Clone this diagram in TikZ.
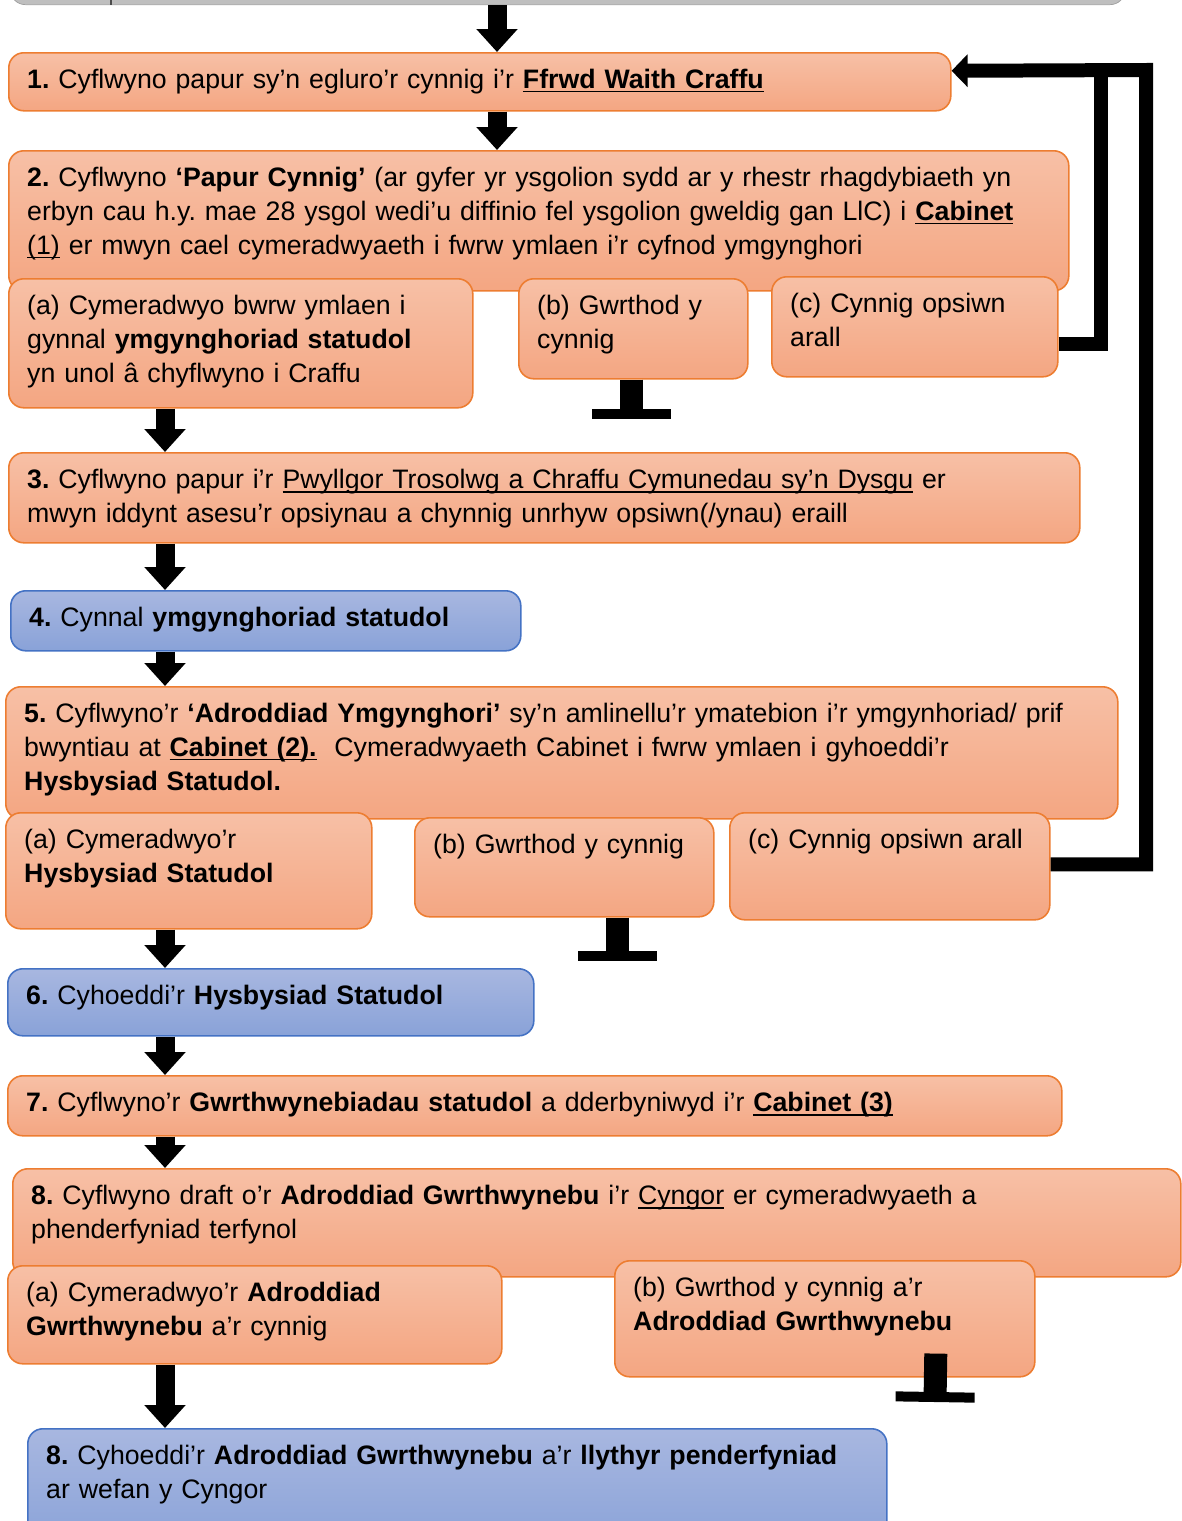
\documentclass[tikz,border=0pt]{standalone}
\usepackage{fontspec}
\setmainfont{Liberation Sans}
\usetikzlibrary{arrows.meta,calc}
\frenchspacing

\definecolor{peachtop}{RGB}{247,192,166}
\definecolor{peachbot}{RGB}{244,166,130}
\definecolor{peachline}{RGB}{237,125,49}
\definecolor{lilactop}{RGB}{168,183,224}
\definecolor{lilacbot}{RGB}{137,162,216}
\definecolor{lilacline}{RGB}{68,114,196}
\newcommand{\uln}[1]{\leavevmode\setbox0\hbox{#1}\rlap{\vrule height -1.4pt depth 2.4pt width \wd0}\box0\relax}

\begin{document}
\begin{tikzpicture}[x=0.02cm,y=-0.02cm,
        stage box/.style 2 args={anchor=north west, rounded corners=0.3cm, line width=0.9pt,
            inner xsep=10.5pt, inner ysep=0pt, align=left,
            text width={#1*0.02cm-21pt}, text height=20.2pt, text depth={#2*0.02cm-20.2pt},
            font=\fontsize{15.2}{19.3}\selectfont},
        orange stage/.style={draw=peachline, top color=peachtop, bottom color=peachbot},
        blue stage/.style={draw=lilacline, top color=lilactop, bottom color=lilacbot},
        down arrow/.style={line width=0.38cm, -{Triangle[width=0.8cm,length=0.46cm]}},
        stop bar/.style={line width=0.46cm, -{Bar[width=1.58cm,line width=0.2cm]}},
        loop back/.style={line width=0.28cm}]
        \useasboundingbox (0,0) rectangle (1182,1521);
        \clip (0,0) rectangle (1182,1521);
        % step before, cut off by the top edge
        \node[draw=gray!75, fill=gray!50, rounded corners=0.3cm, anchor=south west,
            minimum width=22.3cm, minimum height=1.2cm] (prev) at (10,5) {};
        \draw[gray!60!black, line width=0.8pt] (111,0) -- (111,5);

        \node[stage box={942}{58}, orange stage] (b1) at (8,52)
            {\textbf{1.} Cyflwyno papur sy’n egluro’r cynnig i’r \uln{\textbf{Ffrwd Waith Craffu}}};
        \node[stage box={1060}{140}, orange stage] (b2) at (8,150)
            {\textbf{2.} Cyflwyno \textbf{‘Papur Cynnig’} (ar gyfer yr ysgolion sydd ar y rhestr rhagdybiaeth yn\\
            erbyn cau h.y. mae 28 ysgol wedi’u diffinio fel ysgolion gweldig gan LlC) i \uln{\textbf{Cabinet}}\\
            \uln{(1)} er mwyn cael cymeradwyaeth i fwrw ymlaen i’r cyfnod ymgynghori};
        \node[stage box={464}{129}, orange stage] (b2a) at (8,278)
            {(a) Cymeradwyo bwrw ymlaen i\\ gynnal \textbf{ymgynghoriad statudol}\\ yn unol â chyflwyno i Craffu};
        \node[stage box={229}{100}, orange stage] (b2b) at (518,278) {(b) Gwrthod y\\ cynnig};
        \node[stage box={286}{100}, orange stage] (b2c) at (771,276) {(c) Cynnig opsiwn\\ arall};
        \node[stage box={1071}{90}, orange stage] (b3) at (8,452)
            {\textbf{3.} Cyflwyno papur i’r \uln{Pwyllgor Trosolwg a Chraffu Cymunedau sy’n Dysgu} er\\
            mwyn iddynt asesu’r opsiynau a chynnig unrhyw opsiwn(/ynau) eraill};
        \node[stage box={510}{60}, blue stage] (b4) at (10,590)
            {\textbf{4.} Cynnal \textbf{ymgynghoriad statudol}};
        \node[stage box={1112}{132}, orange stage] (b5) at (5,686)
            {\textbf{5.} Cyflwyno’r \textbf{‘Adroddiad Ymgynghori’} sy’n amlinellu’r ymatebion i’r ymgynhoriad/ prif\\
            bwyntiau at \uln{\textbf{Cabinet (2).}}\ \ Cymeradwyaeth Cabinet i fwrw ymlaen i gyhoeddi’r\\
            \textbf{Hysbysiad Statudol.}};
        \node[stage box={366}{116}, orange stage] (b5a) at (5,812) {(a) Cymeradwyo’r\\ \textbf{Hysbysiad Statudol}};
        \node[stage box={299}{99}, orange stage] (b5b) at (414,817) {(b) Gwrthod y cynnig};
        \node[stage box={320}{107}, orange stage] (b5c) at (729,812) {(c) Cynnig opsiwn arall};
        \node[stage box={526}{67}, blue stage] (b6) at (7,968)
            {\textbf{6.} Cyhoeddi’r \textbf{Hysbysiad Statudol}};
        \node[stage box={1054}{60}, orange stage] (b7) at (7,1075)
            {\textbf{7.} Cyflwyno’r \textbf{Gwrthwynebiadau statudol} a dderbyniwyd i’r \uln{\textbf{Cabinet (3)}}};
        \node[stage box={1168}{108}, orange stage] (b8) at (12,1168)
            {\textbf{8.} Cyflwyno draft o’r \textbf{Adroddiad Gwrthwynebu} i’r \uln{Cyngor} er cymeradwyaeth a\\
            phenderfyniad terfynol};
        \node[stage box={494}{98}, orange stage] (b8a) at (7,1265)
            {(a) Cymeradwyo’r \textbf{Adroddiad}\\ \textbf{Gwrthwynebu} a’r cynnig};
        \node[stage box={420}{116}, orange stage] (b8b) at (614,1260)
            {(b) Gwrthod y cynnig a’r\\ \textbf{Adroddiad Gwrthwynebu}};
        \node[stage box={859}{120}, blue stage] (b9) at (27,1428)
            {\textbf{8.} Cyhoeddi’r \textbf{Adroddiad Gwrthwynebu} a’r \textbf{llythyr penderfyniad}\\ ar wefan y Cyngor};

        % main flow
        \draw[down arrow] (prev.south -| 497,0) -- (b1.north -| 497,0);
        \draw[down arrow] (b1.south -| 497,0) -- (b2.north -| 497,0);
        \draw[down arrow] (b2a.south -| 165,0) -- (b3.north -| 165,0);
        \draw[down arrow] (b3.south -| 165,0) -- (b4.north -| 165,0);
        \draw[down arrow] (b4.south -| 165,0) -- (b5.north -| 165,0);
        \draw[down arrow] (b5a.south -| 165,0) -- (b6.north -| 165,0);
        \draw[down arrow] (b6.south -| 165,0) -- (b7.north -| 165,0);
        \draw[down arrow] (b7.south -| 165,0) -- (b8.north -| 165,0);
        \draw[down arrow] (b8a.south -| 165,0) -- (b9.north -| 165,0);

        % rejected
        \coordinate (end2b) at (631,419);
        \coordinate (end5b) at (617,961);
        \coordinate (end8b) at (935,1402);
        \draw[stop bar] (b2b.south -| 631,0) -- (end2b);
        \draw[stop bar] (b5b.south -| 617,0) -- (end5b);
        \draw[stop bar] ($(b8b.south)+(111,-24)$) -- (end8b);

        % other option: back to step 1
        \coordinate (join) at (1101,70);
        \coordinate (corner) at (1146,70);
        \draw[loop back] ($(b2c.east)+(0,17)$) -| (join);
        \draw[loop back, -{Triangle[width=0.64cm,length=0.32cm]}]
            ($(b5c.east)+(0,-2)$) -| (corner) -- ($(b1.east)+(0,-11)$);
\end{tikzpicture}
\end{document}
